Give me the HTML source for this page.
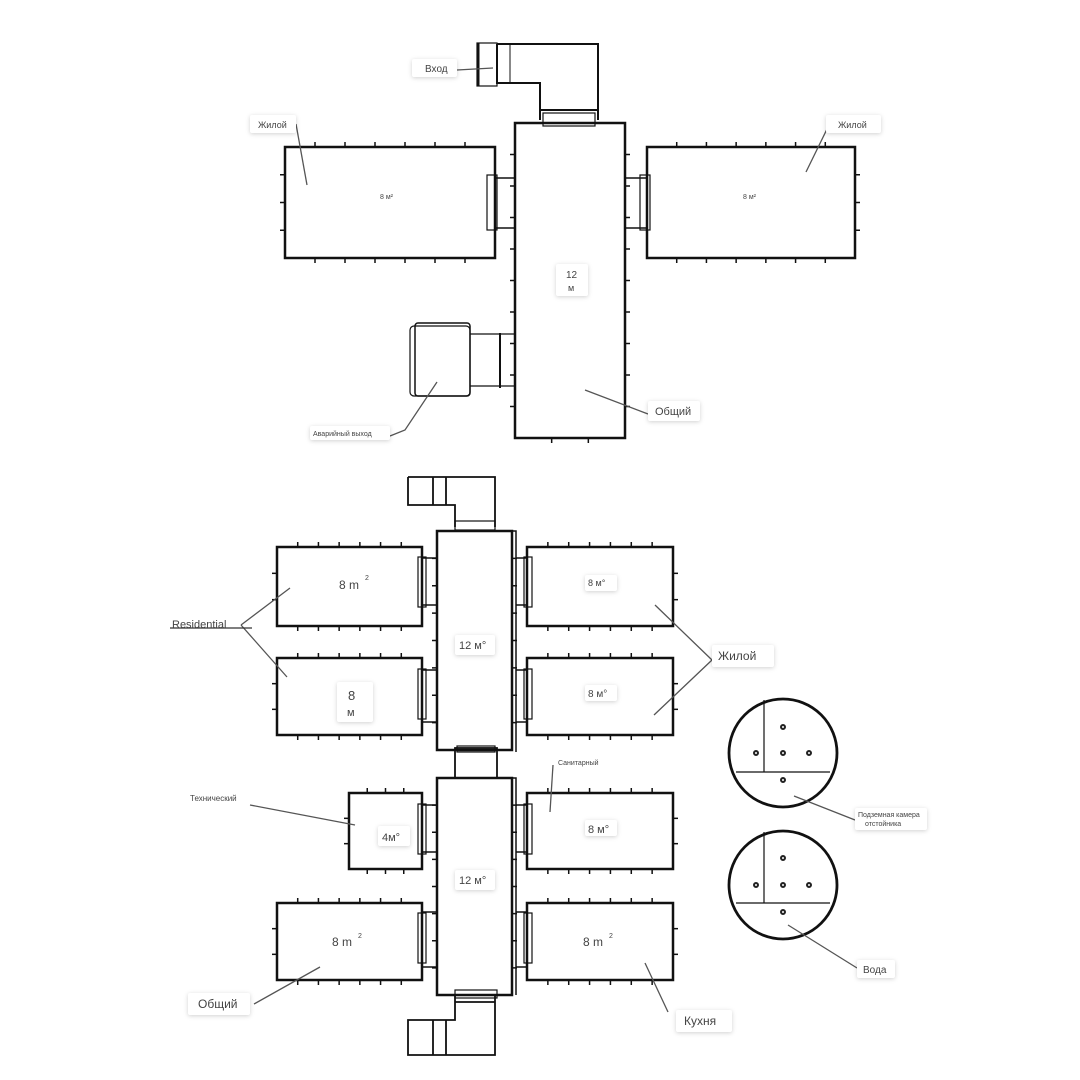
<!DOCTYPE html>
<html><head><meta charset="utf-8"><style>
html,body{margin:0;padding:0;background:#fff}
svg{display:block}
text{font-family:"Liberation Sans","DejaVu Sans",sans-serif;fill:#444}
.lb{fill:#fff;filter:drop-shadow(0 1px 2px rgba(0,0,0,.18))}
</style></head><body>
<svg id="s" width="1080" height="1080" viewBox="0 0 1080 1080" xmlns="http://www.w3.org/2000/svg">
<g fill="none" stroke="#111" stroke-width="2.5" id="g">
<rect x="515" y="123" width="110" height="315"/>
<rect x="285" y="147" width="210" height="111"/>
<rect x="647" y="147" width="208" height="111"/>
<path d="M497 44 H598 V110 M497 44 V83 H540 V110" stroke-width="2"/>
<rect x="477" y="43" width="20" height="43" stroke-width="1.2"/>
<path d="M478 43 V86" stroke-width="3"/>
<line x1="510" y1="44" x2="510" y2="83" stroke-width="1"/>
<path d="M540 110 H598 M540 110 V120 M598 110 V120" stroke-width="2"/>
<rect x="543" y="113" width="52" height="13" stroke-width="1.2"/>
<path d="M495 178 H515 M495 228 H515 M625 178 H647 M625 228 H647" stroke-width="1.5"/>
<rect x="487" y="175" width="10" height="55" stroke-width="1.2"/>
<rect x="640" y="175" width="10" height="55" stroke-width="1.2"/>
<rect x="410" y="326" width="60" height="70" rx="4" stroke-width="1.2"/>
<rect x="415" y="323" width="55" height="73" rx="3" stroke-width="1.5"/>
<path d="M470 334 H515 M470 386 H515" stroke-width="1.2"/>
<line x1="500" y1="333" x2="500" y2="388" stroke-width="2"/>

<path d="M408 477 H495 V527 M408 477 V505 H455 V527 M446 477 V505 M433 477 V505" stroke-width="1.8"/>
<rect x="455" y="521" width="40" height="9" stroke-width="1.2"/>
<rect x="437" y="531" width="75" height="219"/>
<path d="M512 531 H516 V752" stroke-width="1.5"/>
<rect x="277" y="547" width="145" height="79"/>
<rect x="277" y="658" width="145" height="77"/>
<rect x="527" y="547" width="146" height="79"/>
<rect x="527" y="658" width="146" height="77"/>
<rect x="455" y="748" width="42" height="30" stroke-width="1.8"/>
<rect x="457" y="746" width="38" height="6" stroke-width="1.2"/>
<rect x="437" y="778" width="75" height="217"/>
<path d="M512 778 H516 V995" stroke-width="1.5"/>
<rect x="349" y="793" width="73" height="76"/>
<rect x="277" y="903" width="145" height="77"/>
<rect x="527" y="793" width="146" height="76"/>
<rect x="527" y="903" width="146" height="77"/>
<rect x="455" y="990" width="42" height="8" stroke-width="1.2"/>
<path d="M455 995 V1002 H495 V995 M455 1002 V1020 H408 V1055 H495 V998 M433 1020 V1055 M446 1020 V1055" stroke-width="1.8"/>
<g stroke-width="1.5">
<path d="M422 558 H437 M422 605 H437 M422 670 H437 M422 722 H437 M422 805 H437 M422 852 H437 M422 912 H437 M422 967 H437"/>
<path d="M516 558 H527 M516 605 H527 M516 670 H527 M516 722 H527 M516 805 H527 M516 852 H527 M516 912 H527 M516 967 H527"/>
</g>
<g stroke-width="1.2">
<rect x="418" y="557" width="8" height="50"/><rect x="418" y="669" width="8" height="50"/>
<rect x="418" y="804" width="8" height="50"/><rect x="418" y="913" width="8" height="50"/>
<rect x="524" y="557" width="8" height="50"/><rect x="524" y="669" width="8" height="50"/>
<rect x="524" y="804" width="8" height="50"/><rect x="524" y="913" width="8" height="50"/>
</g>
<circle cx="783" cy="753" r="54" stroke-width="2.8"/>
<path d="M764 700 V772 M736 772 H830" stroke-width="1.2"/>
<circle cx="783" cy="885" r="54" stroke-width="2.8"/>
<path d="M764 832 V903 M736 903 H830" stroke-width="1.2"/>
</g>
<g fill="none" stroke="#222" stroke-width="2">
<circle cx="783" cy="727" r="2"/><circle cx="756" cy="753" r="2"/><circle cx="783" cy="753" r="2"/><circle cx="809" cy="753" r="2"/><circle cx="783" cy="780" r="2"/>
<circle cx="783" cy="858" r="2"/><circle cx="756" cy="885" r="2"/><circle cx="783" cy="885" r="2"/><circle cx="809" cy="885" r="2"/><circle cx="783" cy="912" r="2"/>
</g>
<g id="ticks" stroke="#111" stroke-width="1.5"></g>

<g stroke="#555" stroke-width="1.3" fill="none">
<path d="M296 124 L307 185"/><path d="M829 125 L806 172"/>
<path d="M457 70 L493 68"/>
<path d="M437 382 L405 430 L390 436"/>
<path d="M585 390 L648 414"/>
<path d="M241 625 L290 588 M241 625 L287 677"/>
<path d="M712 660 L655 605 M712 660 L654 715"/>
<path d="M252 628 H170" stroke="#333"/>
<path d="M355 825 L250 805"/>
<path d="M550 812 L553 765"/>
<path d="M254 1004 L320 967"/>
<path d="M668 1012 L645 963"/>
<path d="M794 796 L855 820"/>
<path d="M788 925 L857 968"/>
</g>
<rect class="lb" x="412" y="59" width="45" height="18" rx="2"/><text x="425" y="72" font-size="10">Вход</text>
<rect class="lb" x="250" y="115" width="46" height="18" rx="2"/><text x="258" y="128" font-size="9">Жилой</text>
<rect class="lb" x="826" y="115" width="55" height="18" rx="2"/><text x="838" y="128" font-size="9">Жилой</text>
<text x="380" y="199" font-size="7">8 м²</text><text x="743" y="199" font-size="7">8 м²</text>
<rect class="lb" x="556" y="264" width="32" height="32" rx="2"/><text x="566" y="278" font-size="10">12</text><text x="568" y="291" font-size="9">м</text>
<rect class="lb" x="648" y="401" width="52" height="20" rx="2"/><text x="655" y="415" font-size="11">Общий</text>
<rect class="lb" x="310" y="426" width="80" height="14" rx="2"/><text x="313" y="436" font-size="7">Аварийный выход</text>
<text x="339" y="589" font-size="12" fill="#333">8 m</text><text x="365" y="580" font-size="7">2</text>
<rect class="lb" x="337" y="682" width="36" height="40" rx="2"/><text x="348" y="700" font-size="13">8</text><text x="347" y="716" font-size="11">м</text>
<rect class="lb" x="585" y="575" width="32" height="16" rx="2"/><text x="588" y="586" font-size="9">8 м°</text>
<rect class="lb" x="585" y="685" width="32" height="16" rx="2"/><text x="588" y="697" font-size="10">8 м°</text>
<rect class="lb" x="455" y="635" width="40" height="20" rx="2"/><text x="459" y="649" font-size="11">12 м°</text>
<rect class="lb" x="455" y="870" width="40" height="20" rx="2"/><text x="459" y="884" font-size="11">12 м°</text>
<rect class="lb" x="378" y="826" width="32" height="20" rx="2"/><text x="382" y="841" font-size="11">4м°</text>
<rect class="lb" x="585" y="820" width="32" height="16" rx="2"/><text x="588" y="833" font-size="11">8 м°</text>
<text x="332" y="946" font-size="12" fill="#333">8 m</text><text x="358" y="938" font-size="7">2</text>
<text x="583" y="946" font-size="12" fill="#333">8 m</text><text x="609" y="938" font-size="7">2</text>
<text x="172" y="628" font-size="11" fill="#333">Residential</text>
<rect class="lb" x="712" y="645" width="62" height="22" rx="2"/><text x="718" y="660" font-size="12">Жилой</text>
<text x="190" y="801" font-size="8">Технический</text>
<text x="558" y="765" font-size="7">Санитарный</text>
<rect class="lb" x="188" y="993" width="62" height="22" rx="2"/><text x="198" y="1008" font-size="12">Общий</text>
<rect class="lb" x="676" y="1010" width="56" height="22" rx="2"/><text x="684" y="1025" font-size="12">Кухня</text>
<rect class="lb" x="855" y="808" width="72" height="22" rx="2"/><text x="858" y="817" font-size="7">Подземная камера</text><text x="865" y="826" font-size="7">отстойника</text>
<rect class="lb" x="857" y="960" width="38" height="18" rx="2"/><text x="863" y="973" font-size="10">Вода</text>
</svg>
<script>
var g=document.getElementById('ticks'),ns='http://www.w3.org/2000/svg';
function L(a,b,c,d){var l=document.createElementNS(ns,'line');l.setAttribute('x1',a);l.setAttribute('y1',b);l.setAttribute('x2',c);l.setAttribute('y2',d);g.appendChild(l);}
function T(x,y,w,h,nx,ny,sides){var i;
 for(i=1;i<=nx;i++){var xx=x+w*i/(nx+1);if(sides.indexOf('t')>=0)L(xx,y,xx,y-5);if(sides.indexOf('b')>=0)L(xx,y+h,xx,y+h+5);}
 for(i=1;i<=ny;i++){var yy=y+h*i/(ny+1);if(sides.indexOf('l')>=0)L(x,yy,x-5,yy);if(sides.indexOf('r')>=0)L(x+w,yy,x+w+5,yy);}}
T(285,147,210,111,6,3,'tbl');T(647,147,208,111,6,3,'tbr');
T(515,123,110,315,2,9,'lrb');
T(277,547,145,79,6,2,'tbl');T(277,658,145,77,6,2,'tbl');
T(527,547,146,79,6,2,'tbr');T(527,658,146,77,6,2,'tbr');
T(349,793,73,76,3,2,'tbl');T(277,903,145,77,6,2,'tbl');
T(527,793,146,76,6,2,'tbr');T(527,903,146,77,6,2,'tbr');
T(437,531,75,219,0,7,'lr');T(437,778,75,217,0,7,'lr');
</script>
</body></html>
